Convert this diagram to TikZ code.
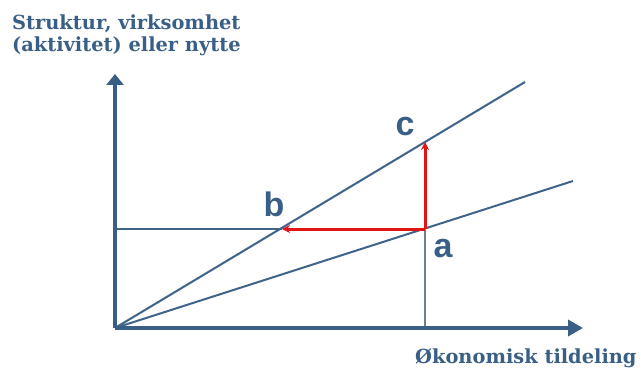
\documentclass[tikz,border=0pt]{standalone}
\usepackage{fontspec}
\setmainfont{DejaVu Serif}
\newfontfamily\labfont{Liberation Sans}
\usetikzlibrary{arrows.meta}
\definecolor{axblue}{HTML}{3A5F86}
\definecolor{lnblue}{HTML}{40638A}
\definecolor{redarr}{HTML}{E01515}
\definecolor{grayln}{HTML}{6A8296}
\tikzset{
  axis/.style={draw=axblue, line width=3.5pt},
  ln/.style={draw=lnblue, line width=2pt},
  redln/.style={draw=redarr, line width=3pt, -{Stealth[length=8pt,width=8pt]}},
  ptlab/.style={font=\labfont\bfseries\fontsize{34}{34}\selectfont, text=axblue, inner sep=0pt},
  axlab/.style={font=\bfseries\fontsize{19.4}{22}\selectfont, text=axblue, inner sep=0pt}
}
\begin{document}
\begin{tikzpicture}[x=1pt,y=-1pt]
\useasboundingbox (0,0) rectangle (641,369);
\coordinate (O) at (115,328);
\coordinate (ytop) at (115,74);
\coordinate (xend) at (583,328);
\coordinate (U) at (525,82);
\coordinate (L) at (573,181);
\coordinate (A) at (425,229);
\coordinate (C) at (425,142);
\coordinate (B) at (282,229);
\coordinate (Y0) at (115,229);
\coordinate (Ax) at (425,328);
% lines
\draw[ln] (O) -- (U);
\draw[ln] (O) -- (L);
\draw[ln] (Y0) -- (B);
\draw[draw=grayln, line width=2.5pt] (A) -- (Ax);
% axes
\draw[axis, -{Triangle[length=11pt,width=17pt]}] (O) -- (ytop);
\draw[axis, -{Triangle[length=15pt,width=16pt]}] (O) -- (xend);
% red arrows
\draw[redln] (A) -- (B);
\draw[redln] (A) -- (C);
% labels
\node[ptlab] (la) at (443,249) {a};
\node[ptlab] (lb) at (274,204) {b};
\node[ptlab] (lc) at (405,127) {c};
\node[axlab, anchor=base west] (ylab1) at (12,30) {Struktur, virksomhet};
\node[axlab, anchor=base west] (ylab2) at (12,52) {(aktivitet) eller nytte};
\node[axlab, anchor=base west] (xlab) at (415,363) {Økonomisk tildeling};
\end{tikzpicture}
\end{document}
